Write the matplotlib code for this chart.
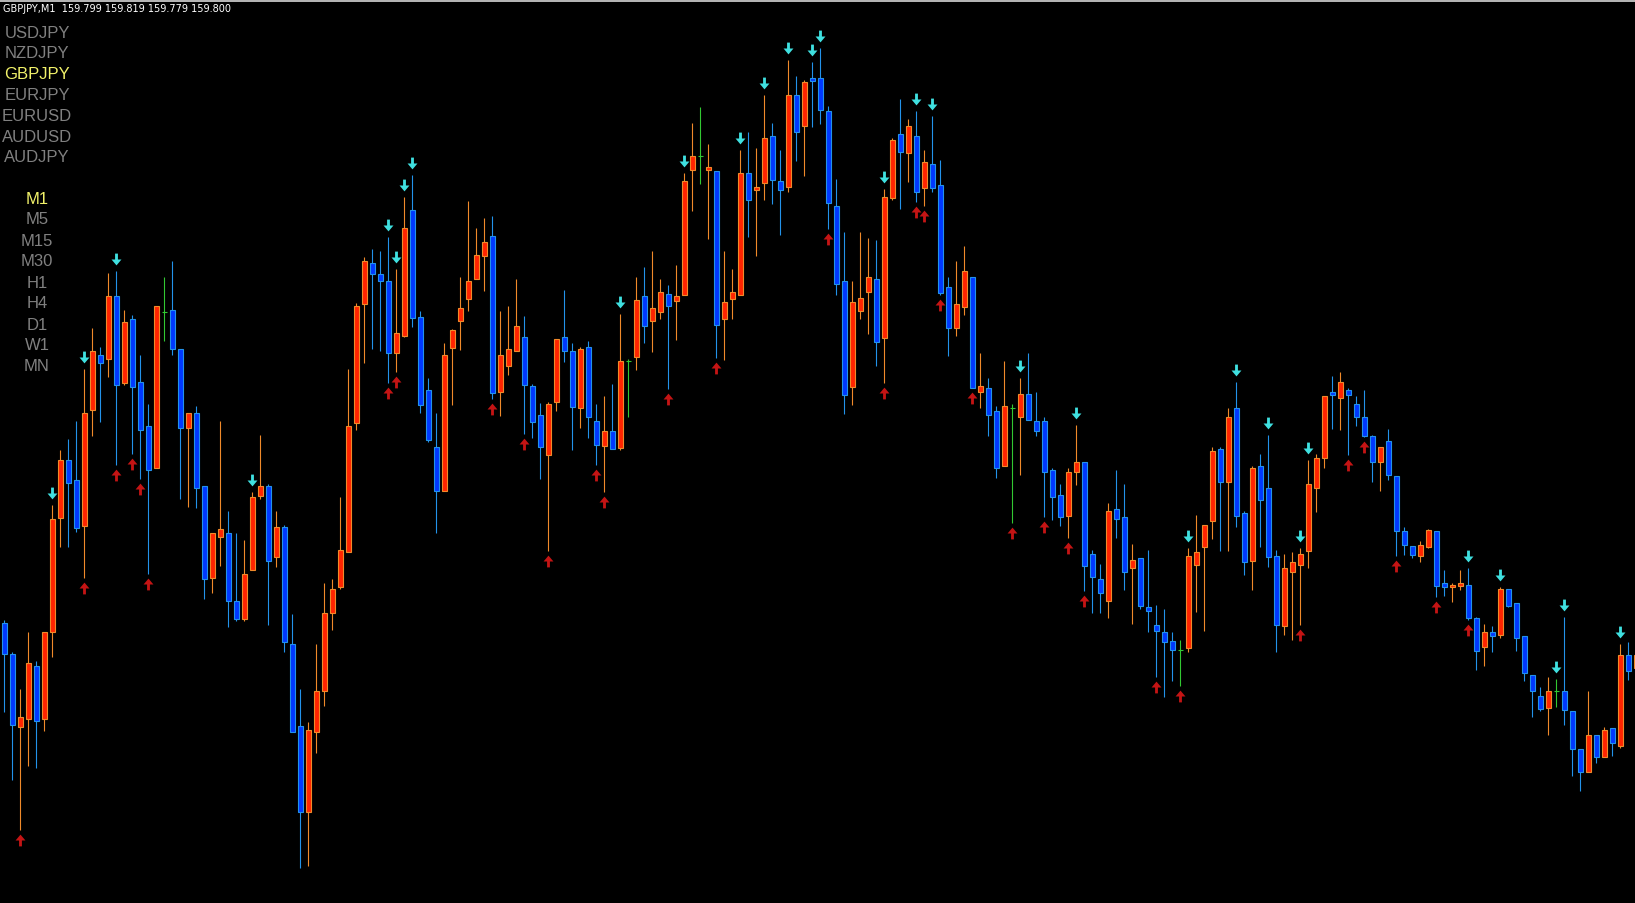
import numpy as np
import matplotlib
matplotlib.use("Agg")
import matplotlib.pyplot as plt
from matplotlib.path import Path
from matplotlib.transforms import offset_copy

symbol = "GBPJPY"
timeframe = "M1"
quote = [159.799, 159.819, 159.779, 159.800]

open_ = [
    159.676, 159.645, 159.572, 159.580, 159.633, 159.580, 159.667, 159.781, 159.839, 159.819,
    159.773, 159.889, 159.944, 159.940, 160.003, 159.916, 159.980, 159.917, 159.873, 159.831,
    159.987, 159.989, 159.950, 159.871, 159.886, 159.813, 159.721, 159.762, 159.766, 159.698,
    159.680, 159.729, 159.803, 159.813, 159.742, 159.772, 159.655, 159.573, 159.487, 159.567,
    159.608, 159.686, 159.712, 159.747, 159.876, 159.995, 160.036, 160.025, 160.018, 159.946,
    159.963, 160.089, 159.982, 159.909, 159.852, 159.808, 159.951, 159.978, 160.000, 160.020,
    160.043, 160.063, 159.907, 159.933, 159.948, 159.962, 159.913, 159.884, 159.844, 159.897,
    159.962, 159.948, 159.891, 159.952, 159.878, 159.853, 159.868, 159.851, 159.938, 159.942,
    160.003, 159.978, 159.987, 160.005, 159.998, 160.004, 160.129, 160.143, 160.129, 160.128,
    159.980, 160.000, 160.004, 160.126, 160.109, 160.116, 160.163, 160.118, 160.112, 160.204,
    160.173, 160.221, 160.221, 160.188, 160.093, 160.018, 159.912, 159.988, 160.007, 160.020,
    159.961, 160.101, 160.165, 160.146, 160.163, 160.111, 160.135, 160.114, 160.012, 159.971,
    159.992, 160.022, 159.907, 159.911, 159.888, 159.833, 159.891, 159.882, 159.905, 159.878,
    159.878, 159.829, 159.804, 159.783, 159.827, 159.837, 159.745, 159.720, 159.698, 159.790,
    159.782, 159.731, 159.741, 159.692, 159.674, 159.667, 159.658, 159.649, 159.651, 159.734,
    159.752, 159.778, 159.850, 159.817, 159.891, 159.786, 159.738, 159.833, 159.811, 159.743,
    159.673, 159.727, 159.734, 159.748, 159.811, 159.841, 159.907, 159.901, 159.909, 159.895,
    159.882, 159.863, 159.837, 159.858, 159.823, 159.768, 159.753, 159.743, 159.752, 159.768,
    159.716, 159.712, 159.713, 159.714, 159.681, 159.652, 159.667, 159.664, 159.710, 159.696,
    159.663, 159.624, 159.603, 159.591, 159.608, 159.608, 159.588, 159.550, 159.527, 159.564,
    159.542, 159.571, 159.553, 159.644, 159.631,
]
high = [
    159.679, 159.647, 159.610, 159.667, 159.638, 159.667, 159.794, 159.849, 159.860, 159.878,
    159.930, 159.971, 159.952, 160.026, 160.028, 159.989, 159.984, 159.944, 159.895, 159.993,
    160.022, 160.038, 159.950, 159.886, 159.893, 159.813, 159.766, 159.878, 159.788, 159.766,
    159.759, 159.807, 159.864, 159.815, 159.788, 159.774, 159.685, 159.610, 159.577, 159.655,
    159.716, 159.720, 159.802, 159.930, 159.996, 160.042, 160.050, 160.048, 160.062, 160.030,
    160.102, 160.124, 159.988, 159.921, 159.886, 159.956, 159.970, 160.022, 160.098, 160.071,
    160.081, 160.083, 159.988, 159.993, 160.020, 159.983, 159.915, 159.896, 159.897, 159.960,
    160.009, 159.956, 159.952, 159.958, 159.895, 159.903, 159.915, 159.985, 159.940, 160.022,
    160.032, 160.048, 160.020, 160.014, 160.034, 160.126, 160.176, 160.192, 160.155, 160.128,
    160.048, 160.030, 160.149, 160.167, 160.151, 160.204, 160.176, 160.149, 160.239, 160.223,
    160.219, 160.237, 160.251, 160.193, 160.120, 160.067, 160.018, 160.067, 160.061, 160.059,
    160.110, 160.161, 160.200, 160.180, 160.188, 160.149, 160.183, 160.139, 160.022, 160.038,
    160.053, 160.022, 159.946, 159.921, 159.893, 159.938, 159.895, 159.921, 159.946, 159.907,
    159.882, 159.831, 159.815, 159.831, 159.874, 159.837, 159.749, 159.735, 159.796, 159.829,
    159.815, 159.755, 159.741, 159.749, 159.694, 159.690, 159.667, 159.659, 159.751, 159.784,
    159.774, 159.852, 159.852, 159.891, 159.917, 159.788, 159.833, 159.845, 159.864, 159.749,
    159.745, 159.747, 159.751, 159.839, 159.845, 159.903, 159.923, 159.927, 159.911, 159.903,
    159.909, 159.864, 159.852, 159.870, 159.823, 159.772, 159.753, 159.758, 159.770, 159.768,
    159.729, 159.716, 159.729, 159.731, 159.682, 159.675, 159.673, 159.712, 159.710, 159.696,
    159.663, 159.624, 159.612, 159.622, 159.620, 159.682, 159.588, 159.550, 159.608, 159.564,
    159.572, 159.571, 159.655, 159.657, 159.655,
]
low = [
    159.587, 159.519, 159.469, 159.533, 159.531, 159.568, 159.642, 159.752, 159.752, 159.767,
    159.721, 159.863, 159.877, 159.922, 159.834, 159.914, 159.845, 159.820, 159.725, 159.831,
    159.958, 159.944, 159.800, 159.792, 159.791, 159.700, 159.706, 159.733, 159.672, 159.678,
    159.678, 159.729, 159.800, 159.674, 159.732, 159.647, 159.567, 159.431, 159.433, 159.546,
    159.593, 159.669, 159.710, 159.747, 159.869, 159.936, 159.950, 159.948, 159.916, 159.927,
    159.962, 159.972, 159.886, 159.857, 159.766, 159.808, 159.894, 159.949, 159.988, 160.020,
    160.008, 159.900, 159.883, 159.924, 159.948, 159.865, 159.861, 159.820, 159.748, 159.888,
    159.937, 159.849, 159.871, 159.861, 159.834, 159.807, 159.850, 159.849, 159.882, 159.929,
    159.956, 159.947, 159.980, 159.910, 159.959, 160.004, 160.088, 160.115, 160.060, 159.941,
    159.939, 159.980, 160.004, 160.062, 160.043, 160.099, 160.095, 160.064, 160.107, 160.138,
    160.123, 160.172, 160.175, 160.070, 160.004, 159.885, 159.894, 159.980, 159.965, 159.933,
    159.916, 160.099, 160.090, 160.117, 160.097, 160.093, 160.107, 160.004, 159.943, 159.963,
    159.984, 159.911, 159.891, 159.863, 159.821, 159.833, 159.776, 159.824, 159.879, 159.863,
    159.782, 159.779, 159.773, 159.761, 159.814, 159.708, 159.686, 159.686, 159.681, 159.761,
    159.709, 159.675, 159.690, 159.667, 159.622, 159.602, 159.618, 159.613, 159.647, 159.687,
    159.668, 159.760, 159.748, 159.748, 159.772, 159.724, 159.709, 159.752, 159.732, 159.647,
    159.664, 159.659, 159.674, 159.731, 159.787, 159.831, 159.870, 159.869, 159.844, 159.873,
    159.862, 159.817, 159.808, 159.819, 159.743, 159.744, 159.741, 159.737, 159.751, 159.702,
    159.703, 159.697, 159.709, 159.679, 159.629, 159.633, 159.647, 159.661, 159.692, 159.648,
    159.618, 159.582, 159.588, 159.564, 159.592, 159.574, 159.523, 159.508, 159.527, 159.536,
    159.542, 159.543, 159.551, 159.619, 159.628,
]
close = [
    159.645, 159.574, 159.582, 159.636, 159.578, 159.667, 159.780, 159.839, 159.816, 159.771,
    159.886, 159.948, 159.936, 160.003, 159.914, 159.977, 159.912, 159.869, 159.829, 159.993,
    159.987, 159.950, 159.871, 159.886, 159.811, 159.720, 159.766, 159.770, 159.698, 159.680,
    159.725, 159.802, 159.813, 159.738, 159.772, 159.657, 159.567, 159.487, 159.569, 159.608,
    159.686, 159.710, 159.749, 159.873, 159.993, 160.038, 160.025, 160.018, 159.946, 159.966,
    160.071, 159.981, 159.894, 159.859, 159.808, 159.944, 159.969, 159.991, 160.018, 160.044,
    160.057, 159.906, 159.944, 159.950, 159.973, 159.914, 159.877, 159.852, 159.895, 159.960,
    159.948, 159.892, 159.950, 159.882, 159.854, 159.868, 159.850, 159.938, 159.938, 159.999,
    159.973, 159.991, 160.007, 159.993, 160.003, 160.118, 160.143, 160.143, 160.132, 159.974,
    159.997, 160.007, 160.126, 160.099, 160.112, 160.161, 160.119, 160.109, 160.204, 160.167,
    160.217, 160.218, 160.189, 160.096, 160.015, 159.904, 159.997, 160.001, 160.022, 159.957,
    160.102, 160.159, 160.147, 160.173, 160.107, 160.137, 160.111, 160.006, 159.971, 159.995,
    160.028, 159.911, 159.913, 159.884, 159.831, 159.893, 159.891, 159.905, 159.879, 159.868,
    159.827, 159.802, 159.782, 159.827, 159.837, 159.733, 159.722, 159.706, 159.788, 159.780,
    159.727, 159.739, 159.693, 159.688, 159.668, 159.657, 159.649, 159.649, 159.743, 159.747,
    159.774, 159.848, 159.817, 159.882, 159.783, 159.737, 159.831, 159.799, 159.742, 159.674,
    159.731, 159.737, 159.745, 159.815, 159.841, 159.903, 159.904, 159.917, 159.904, 159.882,
    159.863, 159.837, 159.852, 159.824, 159.768, 159.754, 159.744, 159.754, 159.769, 159.713,
    159.712, 159.714, 159.716, 159.681, 159.648, 159.667, 159.663, 159.710, 159.693, 159.661,
    159.626, 159.608, 159.590, 159.608, 159.608, 159.589, 159.550, 159.527, 159.564, 159.542,
    159.569, 159.556, 159.644, 159.628, 159.644,
]

# bars that carry an arrow signal
sell_signals = [6, 10, 14, 31, 48, 49, 50, 51, 77, 85, 92, 95, 98, 101, 102, 110, 114, 116,
                127, 134, 148, 154, 158, 162, 163, 183, 187, 194, 195, 202]
buy_signals = [2, 10, 14, 16, 17, 18, 48, 49, 61, 65, 68, 74, 75, 83, 89, 103, 110, 114, 115,
               117, 121, 126, 130, 133, 135, 144, 147, 162, 168, 170, 174, 179, 183]

symbols = ["USDJPY", "NZDJPY", "GBPJPY", "EURJPY", "EURUSD", "AUDUSD", "AUDJPY"]
timeframes = ["M1", "M5", "M15", "M30", "H1", "H4", "D1", "W1", "MN"]

bull_fill, bull_edge = "#ff2400", "#f08a2a"
bear_fill, bear_edge = "#0038ff", "#2392ea"
doji_col = "#32c832"
W, H = 1635, 904

fig = plt.figure(figsize=(W / 100, H / 100), dpi=100, facecolor="black")
ax = fig.add_axes([0, 0, 1, 1])
ax.set_facecolor("black")
ax.set_axis_off()

x = np.arange(len(open_))
o, h, l, c = (np.array(v) for v in (open_, high, low, close))
up, dn, flat = c > o, c < o, c == o

ax.vlines(x[up], l[up], h[up], color=bull_edge, lw=0.8, zorder=2)
ax.vlines(x[dn], l[dn], h[dn], color=bear_edge, lw=0.8, zorder=2)
ax.vlines(x[flat], l[flat], h[flat], color=doji_col, lw=0.8, zorder=2)
ax.hlines(o[flat], x[flat] - 0.3, x[flat] + 0.3, color=doji_col, lw=0.8, zorder=3)

ax.bar(x[up], c[up] - o[up], bottom=o[up], width=0.6, color=bull_fill,
       edgecolor=bull_edge, linewidth=0.8, zorder=3)
ax.bar(x[dn], o[dn] - c[dn], bottom=c[dn], width=0.6, color=bear_fill,
       edgecolor=bear_edge, linewidth=0.8, zorder=3)

# arrow marker (points down); flipped for buy signals
down_arrow = Path([(-0.12, 0.5), (0.12, 0.5), (0.12, 0.0), (0.42, 0.0), (0.0, -0.5),
                   (-0.42, 0.0), (-0.12, 0.0), (-0.12, 0.5)])
up_arrow = Path([(px, -py) for px, py in down_arrow.vertices])

above = offset_copy(ax.transData, fig=fig, x=0, y=8.5, units="points")
below = offset_copy(ax.transData, fig=fig, x=0, y=-7.5, units="points")
ax.plot(sell_signals, h[sell_signals], ls="none", marker=down_arrow, ms=8.5,
        color="#3fe0e0", mec="none", transform=above, zorder=4)
ax.plot(buy_signals, l[buy_signals], ls="none", marker=up_arrow, ms=8.5,
        color="#c41414", mec="none", transform=below, zorder=4)

# pixel -> data: bar i sits at 4.3 + 8*i px, 1 px = 0.001
ax.set_xlim(-4.3 / 8, (W - 4.3) / 8)
ax.set_ylim(160.300 - H / 1000, 160.300)

# header line
fig.add_artist(plt.Line2D([0, 1], [1 - 1.5 / H, 1 - 1.5 / H], color="#d8d8d8", lw=1.2))
fig.text(3 / W, 1 - 9 / H, f"{symbol},{timeframe}  " + " ".join(f"{q:.3f}" for q in quote),
         color="white", fontsize=7, family="DejaVu Sans", va="center", ha="left")

# symbol / timeframe selector
for k, s in enumerate(symbols):
    fig.text(37 / W, 1 - (33 + 20.8 * k) / H, s, ha="center", va="center",
             family="Liberation Sans", fontsize=12,
             color="#f2f26a" if s == symbol else "#808080")
for k, t in enumerate(timeframes):
    fig.text(37 / W, 1 - (199 + 21 * k) / H, t, ha="center", va="center",
             family="Liberation Sans", fontsize=12,
             color="#f2f26a" if t == timeframe else "#808080")

fig.savefig("out.png", dpi=100, facecolor="black")
